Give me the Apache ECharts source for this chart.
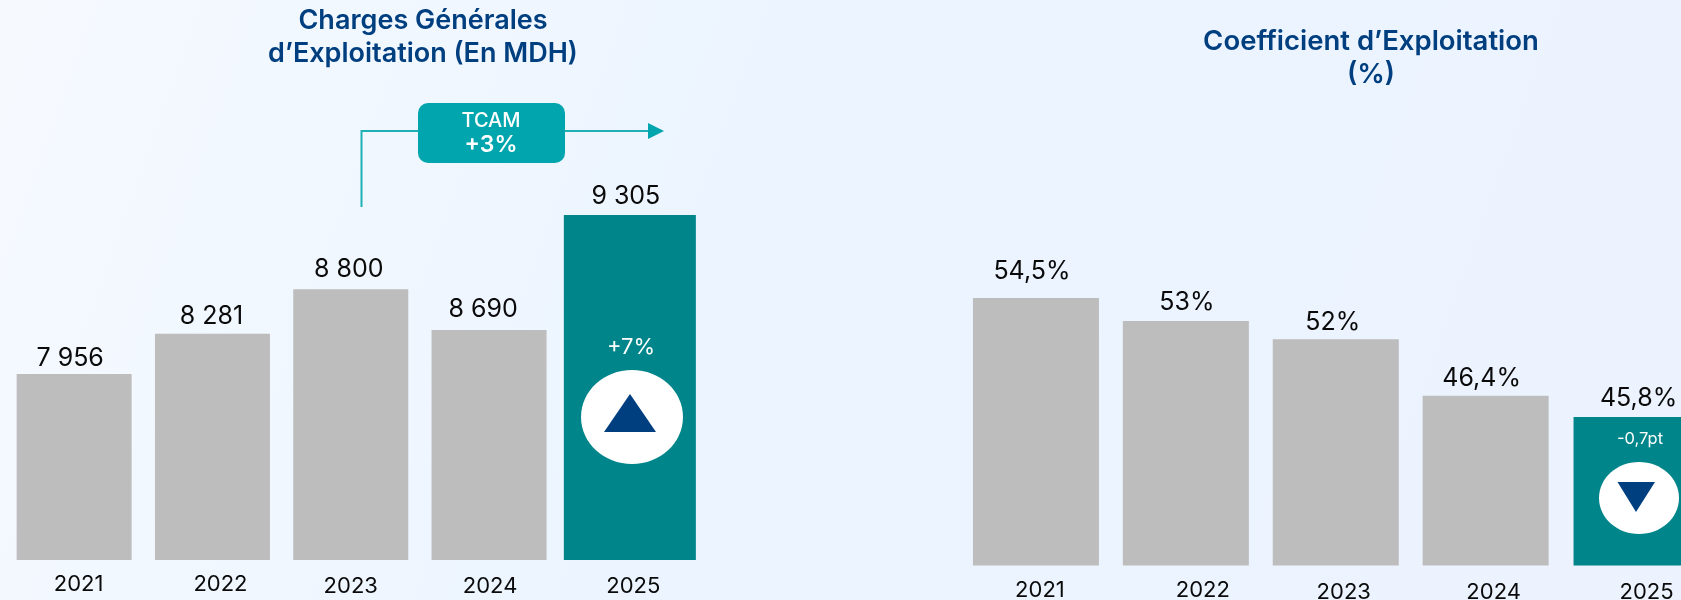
<!DOCTYPE html>
<html>
<head>
<meta charset="utf-8">
<style>html,body{margin:0;padding:0;overflow:hidden;background:#eef5ff}#c{width:1681px;height:600px}</style>
<script src="https://cdn.jsdelivr.net/npm/echarts@6/dist/echarts.min.js"></script>
</head>
<body>
<div id="c"></div>
<script>
// Data: years, printed value labels, and bar levels.
// The reference's bars are not drawn to scale with their printed figures, so the
// levels are read from the bars themselves (tallest bar of each panel = 100).
const years = ['2021', '2022', '2023', '2024', '2025'];
const chargesLabels = ['7 956', '8 281', '8 800', '8 690', '9 305'];
const chargesLevels = [53.9, 65.6, 78.5, 66.7, 100];
const coefLabels = ['54,5%', '53%', '52%', '46,4%', '45,8%'];
const coefLevels = [100, 91.4, 84.6, 63.5, 55.5];

const FONT = 'Inter, "Noto Sans", sans-serif';
const NAVY = '#003f7f', TEAL = '#00858a', GREY = '#bdbdbd', AQUA = '#00a5ad', LINE = '#1fb0b6';

// label nudges, per panel: [dx, dy] for value labels, [left, top] padding for year labels
const chargesValueNudge = [[-4, 3], [-1, 2], [-2, -1], [-6, -1], [-4, 0]];
const coefValueNudge = [[-4, -8], [1, 0], [-3, 2], [-4, 2], [2, 0]];
const chargesYearPad = [[9, 13], [16, 13], [0, 15], [2, 15], [12, 15]];
const coefYearPad = [[8, 14], [34, 14], [16, 16], [16, 16], [22, 16]];

function barData(levels, labels, nudges, keep) {
  return levels.map((v, i) => keep(i) ? {
    value: v,
    label: { formatter: labels[i], offset: nudges[i] }
  } : null);
}
function yearData(pads) {
  return years.map((y, i) => ({
    value: y,
    textStyle: { padding: [pads[i][1], 0, 0, pads[i][0]] }
  }));
}
// The highlighted 2025 bar has its own hidden grid and axes so its width and slot stay independent.
function panelSeries(first, levels, labels, nudges, greyW, tealW) {
  const label = { show: true, position: 'top', distance: 6.5, color: '#0a0a0a', fontSize: 25, fontFamily: FONT };
  const base = { type: 'bar', label, silent: true, animation: false };
  return [
    Object.assign({}, base, { name: 'Historique', xAxisIndex: first, yAxisIndex: first, barWidth: greyW,
      itemStyle: { color: GREY }, data: barData(levels, labels, nudges, i => i < 4) }),
    Object.assign({}, base, { name: '2025', xAxisIndex: first + 1, yAxisIndex: first + 1, barWidth: tealW,
      itemStyle: { color: TEAL }, data: barData(levels, labels, nudges, i => i === 4) })
  ];
}
function gText(text, x, y, size, weight) {
  return { type: 'text', z: 20, style: { text, x, y, fill: '#fff', fontSize: size, fontWeight: weight || 400,
    fontFamily: FONT, textAlign: 'center', textVerticalAlign: 'middle' } };
}

const chart = echarts.init(document.getElementById('c'), null, { renderer: 'canvas', width: 1681, height: 600 });
const axisCommon = { type: 'category', axisLine: { show: false }, axisTick: { show: false } };
const labelCommon = { color: '#0a0a0a', fontSize: 22, fontFamily: FONT, margin: 0, interval: 0, verticalAlign: 'top' };
const hiddenAxis = g => Object.assign({}, axisCommon, { gridIndex: g, data: years, show: false });
const levelAxis = g => ({ type: 'value', gridIndex: g, min: 0, max: 100, show: false });

chart.setOption({
  animation: false,
  backgroundColor: new echarts.graphic.LinearGradient(0, 0, 1, 1, [
    { offset: 0, color: '#f6faff' }, { offset: 0.45, color: '#ebf4ff' }, { offset: 1, color: '#ecf3ff' }
  ]),
  title: [
    { text: 'Charges Générales\nd’Exploitation (En MDH)', left: 418, top: -1, textAlign: 'center',
      textStyle: { color: NAVY, fontSize: 27, fontWeight: 600, fontFamily: FONT, lineHeight: 33 } },
    { text: 'Coefficient d’Exploitation\n(%)', left: 1366, top: 20, textAlign: 'center',
      textStyle: { color: NAVY, fontSize: 27.5, fontWeight: 600, fontFamily: FONT, lineHeight: 33 } }
  ],
  grid: [
    { left: 5, width: 691.5, top: 215, height: 345, outerBoundsMode: 'none' },
    { left: 7.5, width: 691.5, top: 215, height: 345, outerBoundsMode: 'none' },
    { left: 961, width: 749.5, top: 298, height: 267.5, outerBoundsMode: 'none' },
    { left: 962, width: 749.5, top: 298, height: 267.5, outerBoundsMode: 'none' }
  ],
  xAxis: [
    Object.assign({}, axisCommon, { gridIndex: 0, data: yearData(chargesYearPad), axisLabel: labelCommon }),
    hiddenAxis(1),
    Object.assign({}, axisCommon, { gridIndex: 2, data: yearData(coefYearPad), axisLabel: labelCommon }),
    hiddenAxis(3)
  ],
  yAxis: [levelAxis(0), levelAxis(1), levelAxis(2), levelAxis(3)],
  series: [
    ...panelSeries(0, chargesLevels, chargesLabels, chargesValueNudge, 115, 132),
    ...panelSeries(2, coefLevels, coefLabels, coefValueNudge, 126, 126)
  ],
  graphic: [
    { type: 'polyline', z: 10, shape: { points: [[361.5, 207], [361.5, 131], [650, 131]] },
      style: { stroke: LINE, lineWidth: 2, fill: null } },
    { type: 'polygon', z: 10, shape: { points: [[648, 123], [664, 131], [648, 139]] }, style: { fill: AQUA } },
    { type: 'rect', z: 11, shape: { x: 418, y: 103, width: 147, height: 60, r: 10 }, style: { fill: AQUA } },
    gText('TCAM', 491, 121, 20, 500),
    gText('+3%', 491, 145, 23, 600),
    gText('+7%', 631, 347, 22),
    { type: 'ellipse', z: 12, shape: { cx: 632, cy: 417, rx: 51, ry: 47 }, style: { fill: '#fff' } },
    { type: 'polygon', z: 13, shape: { points: [[630, 394], [604, 432], [656, 432]] }, style: { fill: NAVY } },
    gText('-0,7pt', 1640, 439, 16.5),
    { type: 'ellipse', z: 12, shape: { cx: 1639, cy: 498, rx: 40, ry: 36 }, style: { fill: '#fff' } },
    { type: 'polygon', z: 13, shape: { points: [[1617.5, 482], [1655, 482], [1636, 512]] }, style: { fill: NAVY } }
  ]
});
</script>
</body>
</html>
